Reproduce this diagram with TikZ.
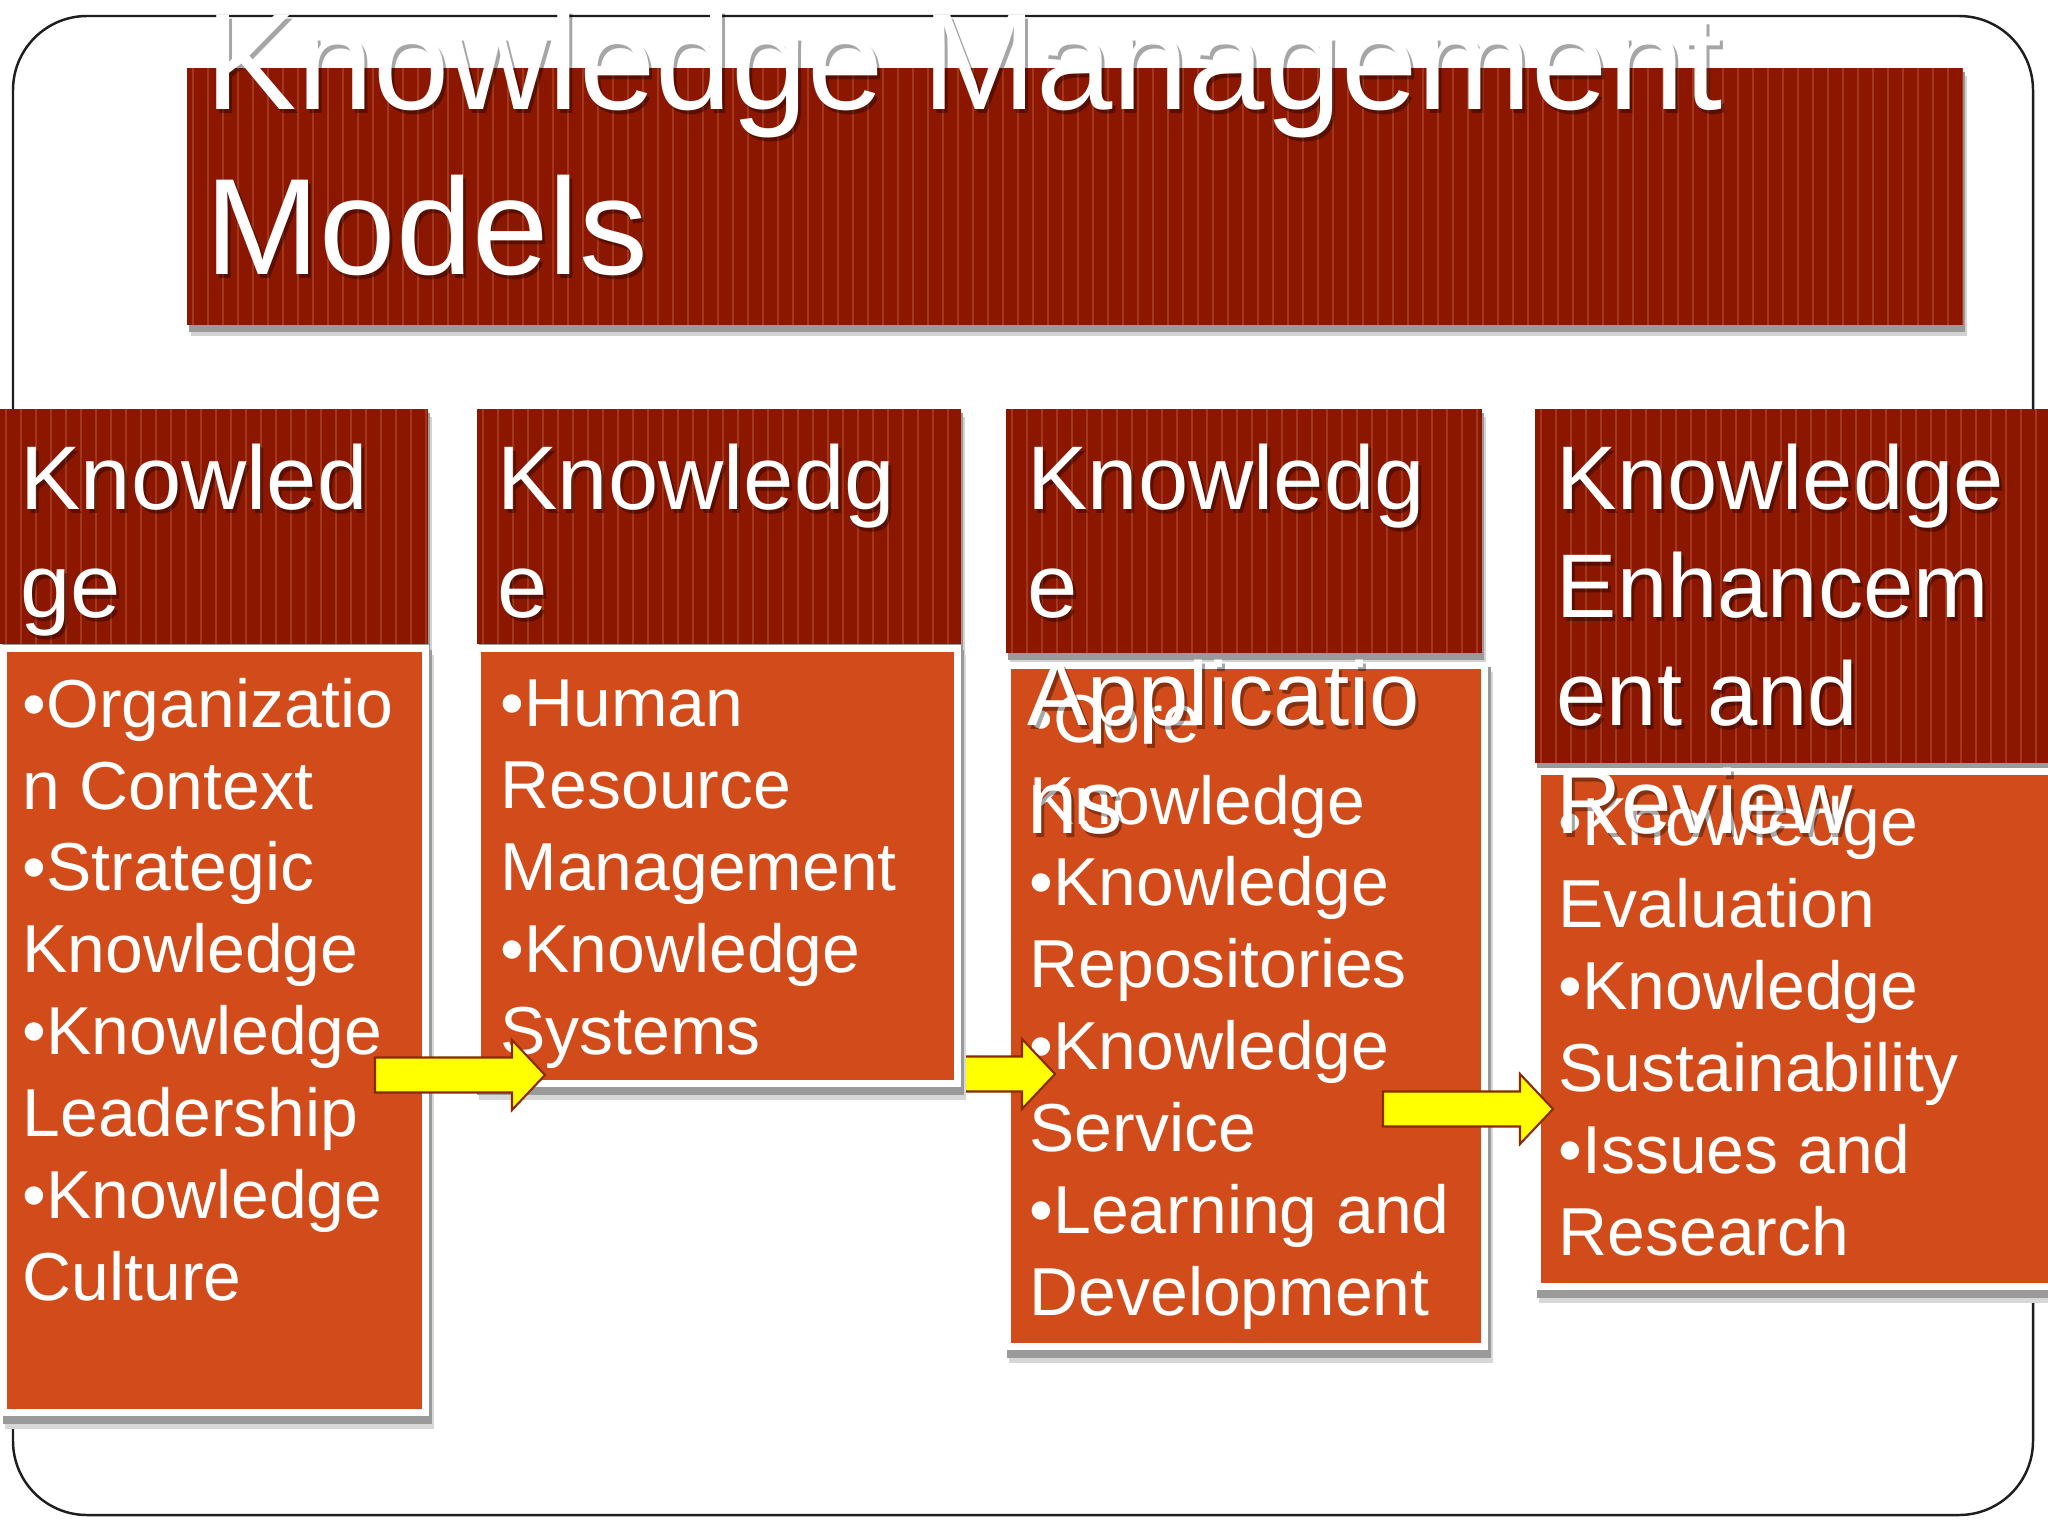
\documentclass[tikz,border=0pt]{standalone}
\usepackage{fontspec}
\setmainfont{Liberation Sans}
\usetikzlibrary{fit,calc}
\definecolor{hdr}{HTML}{8C1700}
\definecolor{hdrstripe}{HTML}{A23819}
\definecolor{bodyfill}{HTML}{D24B1A}
\definecolor{arrfill}{HTML}{FFFF00}
\definecolor{arrline}{HTML}{8A2A00}
\definecolor{framecol}{HTML}{1E1E1E}
\definecolor{shadowcol}{HTML}{9A9A9A}

% note: for multi-line nodes the base anchor is the baseline of the LAST line
\tikzset{
  bodytext/.style={anchor=base west, inner sep=0pt, align=left, text=white, font=\fontsize{19.3}{23.27}\selectfont},
  hdrtext/.style={anchor=base west, inner sep=0pt, align=left, text=white, font=\fontsize{25.7}{30.7}\selectfont},
  titletext/.style={anchor=base west, inner sep=0pt, align=left, text=white, font=\fontsize{39}{46.7}\selectfont},
  textshadow/.style={text=black, opacity=0.35},
  blockarrow/.style={fill=arrfill, draw=arrline, line width=0.6pt, line join=miter},
}

% striped dark red box: name, x1, y1, x2, y2
\newcommand\hdrbox[5]{%
  \fill[shadowcol!45] (#2+4,#3+8) rectangle (#4+4,#5+11);
  \fill[shadowcol] (#2+2,#3+4) rectangle (#4+2,#5+7);
  \node[fit={(#2,#3) (#4,#5)}, inner sep=0pt, fill=hdr] (#1) {};
  \begin{scope}
    \clip (#2,#3) rectangle (#4,#5);
    \pgfmathtruncatemacro\nstripes{(#4-#2)/15}
    \foreach \i in {0,...,\nstripes}
      \draw[hdrstripe, line width=0.55pt] ({#2+6+15*\i},#3) -- ({#2+6+15*\i},#5);
  \end{scope}
}
% orange body box with white border: name, x1, y1, x2, y2
\newcommand\bodybox[5]{%
  \fill[shadowcol!40] (#2+5,#3+10) rectangle (#4+5,#5+13);
  \fill[shadowcol] (#2+3,#3+5) rectangle (#4+3,#5+8);
  \fill[white] (#2,#3) rectangle (#4,#5);
  \node[fit={(#2+7,#3+7) (#4-7,#5-7)}, inner sep=0pt, fill=bodyfill] (#1) {};
}
% text with drop shadow: name, style, x, y (last baseline), text
\newcommand\shtext[5]{%
  \node[#2, textshadow] (#1-s) at (#3+3,#4+4) {#5};
  \node[#2] (#1) at (#3,#4) {#5};
}
% block arrow between two named coordinates (start, tip)
\newcommand\barrow[2]{%
  \filldraw[blockarrow] ($(#1)+(0,-17.5)$) -- ($(#2)+(-33,-17.5)$) -- ($(#2)+(-33,-35)$)
    -- (#2) -- ($(#2)+(-33,35)$) -- ($(#2)+(-33,17.5)$) -- ($(#1)+(0,17.5)$) -- cycle;
}

\begin{document}
\begin{tikzpicture}[x=0.01cm, y=-0.01cm]
\useasboundingbox (0,0) rectangle (2048,1536);
\fill[white] (0,0) rectangle (2048,1536);

% outer frame
\draw[framecol, line width=0.7pt, rounded corners=0.74cm] (13,16) rectangle (2033,1515);

% title box
\hdrbox{titlebox}{187}{68}{1963}{325}

% header boxes
\hdrbox{h1}{0}{409}{428}{644}
\hdrbox{h2}{477}{409}{961}{644}
\hdrbox{h3}{1006}{409}{1482}{653}
\hdrbox{h4}{1535}{409}{2048}{763}

% body 3 and its text
\bodybox{b3}{1004}{662}{1488}{1350}
\node[bodytext] (t3) at (1029,1315) {•Core\\Knowledge\\•Knowledge\\Repositories\\•Knowledge\\Service\\•Learning and\\Development};

% arrow 2 (behind body 2)
\coordinate (a2s) at (887,1074);
\coordinate (a2t) at (1055,1074);
\barrow{a2s}{a2t}

% bodies 1, 2, 4
\bodybox{b1}{0}{645}{429}{1416}
\bodybox{b2}{474}{645}{961}{1087}
\bodybox{b4}{1534}{768}{2060}{1290}
\node[bodytext] (t1) at (22,1300) {•Organizatio\\n Context\\•Strategic\\Knowledge\\•Knowledge\\Leadership\\•Knowledge\\Culture};
\node[bodytext] (t2) at (500,1054) {•Human\\Resource\\Management\\•Knowledge\\Systems};
\node[bodytext] (t4) at (1558,1255) {•Knowledge\\Evaluation\\•Knowledge\\Sustainability\\•Issues and\\Research};

% arrows 1 and 3
\coordinate (a1s) at (375,1075);
\coordinate (a1t) at (545,1075);
\barrow{a1s}{a1t}
\coordinate (a3s) at (1383,1109);
\coordinate (a3t) at (1553,1109);
\barrow{a3s}{a3t}

% header texts
\shtext{ht1}{hdrtext}{20}{617}{Knowled\\ge}
\shtext{ht2}{hdrtext}{497}{617}{Knowledg\\e}
\shtext{ht3}{hdrtext}{1027}{833}{Knowledg\\e\\Applicatio\\ns}
\shtext{ht4}{hdrtext}{1556}{833}{Knowledge\\Enhancem\\ent and\\Review}

% title text
\shtext{title}{titletext}{205}{274}{Knowledge Management\\Models}
\end{tikzpicture}
\end{document}
